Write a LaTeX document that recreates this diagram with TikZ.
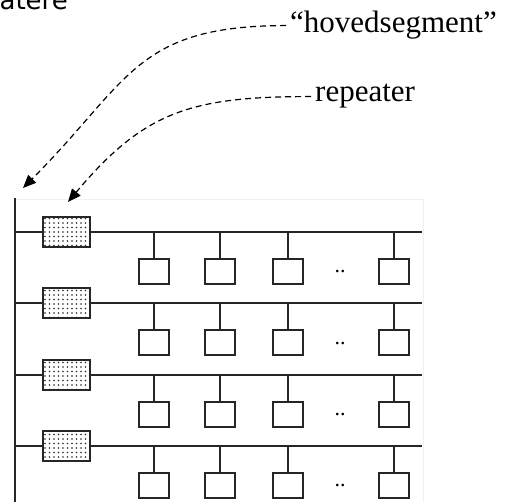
\documentclass[tikz,border=0pt]{standalone}
\usepackage{fontspec}
\setmainfont{Liberation Serif}
\newfontfamily\headfont{DejaVu Sans}
\usetikzlibrary{arrows.meta,patterns.meta}
\tikzset{
  wire/.style={line width=2pt,draw=black!85},
  rptbox/.style={wire,minimum width=47pt,minimum height=30pt,inner sep=0pt,
    pattern={Dots[distance=4.5pt,radius=0.9pt]},pattern color=black!85},
  stationbox/.style={wire,minimum width=30pt,minimum height=25pt,inner sep=0pt},
  pointer/.style={line width=1.2pt,dash pattern=on 6pt off 4pt,
    -{Triangle[length=13pt,width=11pt]}},
  callout/.style={font=\fontsize{31}{36}\selectfont,inner sep=4pt}
}
\begin{document}
\begin{tikzpicture}[x=1pt,y=1pt]
\useasboundingbox (0,0) rectangle (506,502);
\clip (0,0) rectangle (506,502);
% cut-off heading
\node[font=\headfont\fontsize{26}{30}\selectfont,anchor=base east,inner sep=0pt] (head) at (68,492.5) {atere};
% faint frame
\draw[black!6,line width=1pt] (15,302) -| (423,-2);
% main segment
\coordinate (maintop) at (15,304);
\coordinate (mainbot) at (15,-2);
\draw[wire] (maintop) -- (mainbot);
% segments with repeaters and stations
\foreach \r in {1,...,4}{
  \pgfmathsetmacro{\busy}{270-71.33*(\r-1)}
  \coordinate (bw\r) at (15,\busy);
  \coordinate (be\r) at (422,\busy);
  \node[rptbox] (rep\r) at (66.5,\busy) {};
  \draw[wire] (bw\r) -- (rep\r.west) (rep\r.east) -- (be\r);
  \foreach \c/\x in {1/154,2/220,3/288,4/394}{
    \node[stationbox] (st\r\c) at (\x,\busy-39.5) {};
    \draw[wire] (st\r\c.north) -- (st\r\c.north |- bw\r);
  }
  \node[font=\fontsize{22}{24}\selectfont] (dots\r) at (340,\busy-40) {..};
}
% callouts
\node[callout,anchor=base west] (hoved) at (286,469) {“hovedsegment”};
\node[callout,anchor=base west] (rptlabel) at (311,400) {repeater};
\draw[pointer] (hoved.west) to[out=180,in=45,looseness=1.25] ([shift={(8,10)}]maintop);
\draw[pointer] (rptlabel.west) to[out=180,in=50,looseness=1.15] ([shift={(1.5,14)}]rep1.north);
\end{tikzpicture}
\end{document}
